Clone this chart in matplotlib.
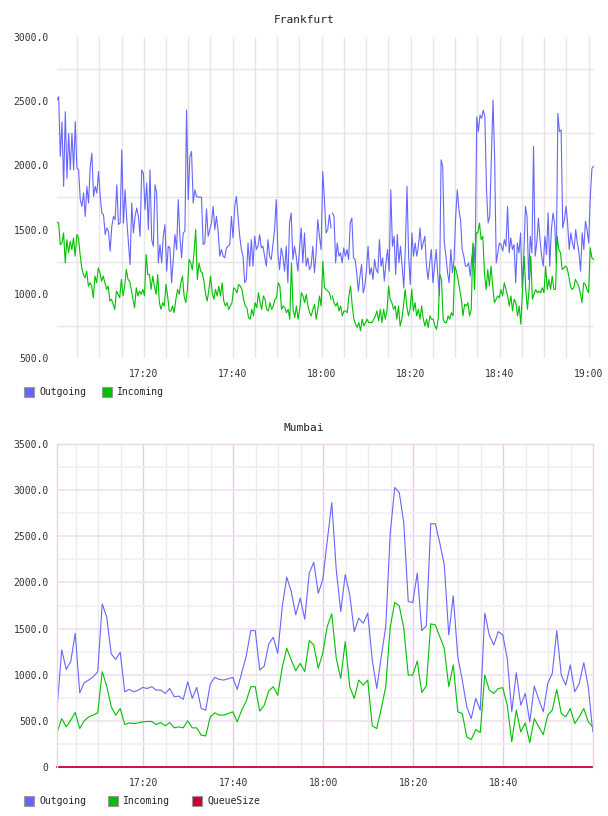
import numpy as np
import pandas as pd
import matplotlib
matplotlib.use("Agg")
import matplotlib.pyplot as plt
import matplotlib.dates as mdates
from matplotlib.patches import Rectangle
from matplotlib.ticker import FixedLocator, FuncFormatter

# ---- data ----
# Frankfurt, two halves: 17:00:30-18:02 and 18:02-19:01
fra_out_a = [2510, 2535, 2070, 2340, 1836, 2418, 1900, 2250, 1965, 2250, 1965, 2340, 1978, 1965, 1733,
             1680, 1784, 1603, 1836, 1707, 1990, 2095, 1758, 1836, 1784, 1952, 1758, 1629, 1616, 1461,
             1513, 1487, 1332, 1526, 1603, 1577, 1849, 1539, 1552, 2121, 1552, 1810, 1577, 1396, 1228,
             1707, 1474, 1603, 1668, 1603, 1448, 1965, 1940, 1655, 1862, 1500, 1965, 1422, 1370, 1849,
             1784, 1241, 1383, 1241, 1448, 1539, 1176, 1370, 1357, 1086, 1280, 1461, 1345, 1733, 1448,
             1280, 1474, 1487, 2431, 1733, 2069, 2108, 1707, 1810, 1758, 1753, 1753, 1753, 1383, 1396,
             1660, 1448, 1500, 1552, 1681, 1500, 1603, 1487, 1293, 1345, 1293, 1280, 1357, 1370, 1383,
             1603, 1435, 1681, 1758, 1603, 1448, 1345, 1293, 1086, 1112, 1396, 1215, 1422, 1215, 1448,
             1345, 1370, 1461, 1357, 1370, 1293, 1215, 1422, 1293, 1267, 1383, 1500, 1733, 1319, 1189,
             1357, 1293, 1176, 1370, 1086, 1552, 1629, 1267, 1370, 1293, 1176, 1345, 1513, 1241, 1474,
             1215, 1280, 1189, 1215, 1370, 1163, 1319, 1577, 1448, 1345, 1952, 1733, 1474, 1500, 1616,
             1513]
fra_out_b = [1629, 1603, 1241, 1396, 1293, 1319, 1241, 1357, 1293, 1345, 1267, 1552, 1590, 1280, 1267,
             1163, 1021, 1138, 1228, 1008, 1060, 1189, 1370, 1150, 1202, 1112, 1267, 1189, 1163, 1422,
             1215, 1280, 1099, 1241, 1345, 1176, 1810, 1370, 1448, 1150, 1461, 1241, 1370, 1215, 1047,
             1370, 1836, 1293, 1073, 1474, 1293, 1396, 1293, 1370, 1513, 1345, 1396, 1448, 1215, 1112,
             1241, 1345, 1086, 1215, 1345, 1138, 983, 2043, 1992, 1396, 1293, 1163, 1086, 1345, 1163,
             1267, 1603, 1810, 1655, 1577, 1345, 1293, 1215, 1215, 1241, 1138, 1293, 1383, 1241, 2379,
             2263, 2392, 2366, 2431, 2379, 1810, 1552, 1603, 2069, 2509, 2069, 1241, 1319, 1396, 1383,
             1332, 1422, 1370, 1681, 1319, 1435, 1345, 1383, 1086, 1396, 1319, 1474, 1047, 1306, 1681,
             1603, 1112, 1448, 1319, 2147, 1293, 1396, 1590, 1422, 1293, 1215, 1448, 1306, 1629, 1215,
             1500, 1629, 1552, 1241, 2405, 2263, 2276, 1513, 1577, 1681, 1552, 1345, 1474, 1396, 1345,
             1500, 1396, 1319, 1176, 1474, 1345, 1565, 1500, 1396, 1758, 1978, 1992]
fra_in_a = [1557, 1551, 1383, 1396, 1474, 1241, 1422, 1319, 1409, 1345, 1435, 1293, 1461, 1435, 1306,
            1202, 1150, 1125, 1176, 1060, 1086, 1060, 969, 1138, 1086, 1202, 1163, 1099, 1138, 1086,
            1034, 1060, 944, 957, 918, 879, 1021, 996, 969, 1112, 983, 1060, 1189, 1112, 1099,
            1034, 957, 892, 1047, 983, 1021, 996, 1034, 983, 1306, 1150, 1150, 1034, 1138, 1060,
            996, 1150, 931, 879, 931, 905, 1073, 983, 866, 866, 905, 853, 957, 1034, 996,
            1086, 1138, 983, 931, 1034, 1267, 1241, 1189, 1319, 1500, 1112, 1241, 1176, 1163, 1099,
            996, 944, 1034, 1138, 1008, 957, 1034, 983, 1060, 983, 1086, 944, 905, 931, 879,
            905, 931, 1047, 1034, 1008, 1073, 1060, 1034, 957, 905, 892, 815, 802, 879, 828,
            931, 892, 1008, 931, 879, 983, 957, 879, 866, 931, 879, 905, 957, 969, 1086,
            1060, 879, 905, 892, 853, 879, 802, 1241, 879, 815, 905, 802, 879, 1008, 983,
            931, 996, 905, 853, 828, 879, 918, 802, 879, 983, 905, 1254, 1047, 1034, 1021,
            1008, 957]
fra_in_b = [983, 931, 905, 931, 866, 905, 828, 866, 866, 853, 983, 1060, 905, 802, 763,
            738, 776, 712, 802, 750, 776, 802, 776, 776, 776, 802, 828, 866, 789, 879,
            776, 879, 802, 866, 1060, 957, 931, 879, 905, 802, 905, 750, 802, 905, 1034,
            905, 828, 879, 1034, 866, 931, 828, 879, 802, 905, 802, 750, 802, 738, 828,
            802, 802, 750, 724, 802, 1150, 1112, 802, 776, 776, 828, 802, 853, 828, 1215,
            1176, 1112, 1034, 957, 828, 918, 905, 931, 828, 879, 1396, 1034, 1474, 1474, 1551,
            1422, 1448, 1163, 1034, 1189, 1060, 1215, 1060, 931, 957, 983, 969, 1034, 983, 1086,
            1034, 983, 905, 983, 866, 957, 931, 828, 905, 763, 1034, 1293, 1034, 879, 1034,
            1293, 957, 996, 1034, 1008, 1021, 1008, 1047, 1008, 1215, 1034, 1112, 1034, 1138, 1034,
            1034, 1448, 1345, 1319, 1189, 1202, 1215, 1202, 1138, 1060, 1034, 1047, 1112, 1086, 1060,
            1008, 931, 1086, 1073, 1034, 1008, 1357, 1280, 1267]

# Mumbai, one sample per minute 17:01-19:00
mum_out = [660, 1268, 1058, 1141, 1449, 804, 913, 942, 978, 1033,
           1768, 1623, 1225, 1167, 1243, 815, 841, 815, 833, 862,
           851, 870, 833, 833, 797, 851, 761, 768, 732, 924,
           743, 862, 634, 616, 899, 971, 949, 942, 956, 971,
           841, 1022, 1203, 1478, 1478, 1051, 1094, 1333, 1406, 1232,
           1739, 2058, 1902, 1648, 1830, 1601, 2102, 2218, 1884, 2029,
           2450, 2865, 2138, 1685, 2084, 1866, 1467, 1612, 1558, 1667,
           1159, 851, 1196, 1522, 2538, 3029, 2974, 2647, 1793, 1782,
           2102, 1478, 1529, 2636, 2636, 2429, 2193, 1431, 1855, 1196,
           942, 652, 525, 743, 616, 1667, 1431, 1322, 1467, 1431,
           1177, 598, 1022, 670, 797, 489, 877, 732, 598, 906,
           1014, 1478, 996, 888, 1105, 815, 906, 1130, 870, 380]
mum_in = [380, 525, 435, 507, 591, 417, 500, 543, 562, 587,
          1033, 877, 652, 562, 634, 460, 478, 471, 478, 489,
          493, 493, 460, 482, 446, 482, 424, 435, 424, 500,
          424, 424, 344, 337, 543, 587, 562, 562, 580, 598,
          489, 616, 714, 870, 870, 605, 670, 822, 870, 779,
          1080, 1286, 1159, 1043, 1123, 1033, 1370, 1322, 1069, 1232,
          1522, 1659, 1177, 960, 1359, 870, 743, 942, 888, 942,
          446, 417, 634, 870, 1522, 1782, 1746, 1504, 996, 996,
          1148, 808, 877, 1551, 1540, 1413, 1286, 870, 1105, 598,
          580, 326, 297, 406, 373, 996, 833, 797, 851, 859,
          670, 272, 616, 380, 478, 264, 525, 435, 351, 562,
          616, 841, 580, 543, 634, 471, 543, 634, 489, 435]
mum_queue = [0, 0, 0, 0, 0, 0, 0, 0, 0, 0, 0, 0, 0, 0, 0, 0, 0, 0, 0, 0,
             0, 0, 0, 0, 0, 0, 0, 0, 0, 0, 0, 0, 0, 0, 0, 0, 0, 0, 0, 0,
             0, 0, 0, 0, 0, 0, 0, 0, 0, 0, 0, 0, 0, 0, 0, 0, 0, 0, 0, 0,
             0, 0, 0, 0, 0, 0, 0, 0, 0, 0, 0, 0, 0, 0, 0, 0, 0, 0, 0, 0,
             0, 0, 0, 0, 0, 0, 0, 0, 0, 0, 0, 0, 0, 0, 0, 0, 0, 0, 0, 0,
             0, 0, 0, 0, 0, 0, 0, 0, 0, 0, 0, 0, 0, 0, 0, 0, 0, 0, 0, 0]

BLUE, GREEN, RED = "#6666ff", "#00c000", "#cc0033"
MONO = "DejaVu Sans Mono"

W, H = 608, 816
fig = plt.figure(figsize=(W / 100, H / 100), dpi=100)
start = pd.Timestamp("2020-01-01 17:00")


def minutes(t0, t1, n):
    return start + pd.to_timedelta(np.linspace(t0, t1, n), unit="m")


def px_axes(left, top, right, bottom):
    return fig.add_axes([left / W, 1 - bottom / H, (right - left) / W, (bottom - top) / H])


def legend(items, xs, yc):
    for (label, color), x in zip(items, xs):
        fig.add_artist(Rectangle((x / W, 1 - (yc + 5) / H), 10 / W, 10 / H,
                                 transform=fig.transFigure, facecolor=color,
                                 edgecolor="#999999", lw=0.8))
        fig.text((x + 15) / W, 1 - yc / H, label, ha="left", va="center",
                 fontsize=7, family=MONO, color="#222222")


def setup_time_axis(ax, t_end):
    ax.set_xlim(start + pd.Timedelta(minutes=0.5 if t_end > 120.5 else 0.85),
                start + pd.Timedelta(minutes=t_end))
    ax.xaxis.set_major_locator(mdates.MinuteLocator(byminute=[0, 20, 40]))
    ax.xaxis.set_minor_locator(mdates.MinuteLocator(byminute=range(0, 60, 5)))
    ax.xaxis.set_major_formatter(mdates.DateFormatter("%H:%M"))
    ax.tick_params(which="both", length=0, labelsize=7, labelcolor="#333333")
    ax.tick_params(axis="x", pad=8)
    ax.tick_params(axis="y", pad=6)
    for lab in ax.get_xticklabels() + ax.get_yticklabels():
        lab.set_family(MONO)
    ax.set_axisbelow(True)


yfmt = FuncFormatter(lambda v, p: "0" if v == 0 else "%.1f" % v)

# ---- Frankfurt ----
ax1 = px_axes(57, 37, 594, 358)
ax1.plot(minutes(0.5, 62.1, len(fra_out_a)), fra_out_a, color=BLUE, lw=0.8)
ax1.plot(minutes(62.4, 121.1, len(fra_out_b)), fra_out_b, color=BLUE, lw=0.8)
ax1.plot(minutes(0.5, 62.1, len(fra_in_a)), fra_in_a, color=GREEN, lw=0.8)
ax1.plot(minutes(62.4, 121.1, len(fra_in_b)), fra_in_b, color=GREEN, lw=0.8)
ax1.set_ylim(500, 3000)
ax1.set_yticks([500, 1000, 1500, 2000, 2500, 3000])
ax1.yaxis.set_minor_locator(FixedLocator([750, 1250, 1750, 2250, 2750]))
ax1.yaxis.set_major_formatter(yfmt)
setup_time_axis(ax1, 121.2)
ax1.grid(which="minor", axis="y", color="#e6e6e6", lw=1)
ax1.grid(which="both", axis="x", color="#e6e6e6", lw=1)
for s in ax1.spines.values():
    s.set_visible(False)
fig.text(0.5, 1 - 20 / H, "Frankfurt", ha="center", va="center", fontsize=8,
         family=MONO, color="#222222")
legend([("Outgoing", BLUE), ("Incoming", GREEN)], [24, 102], 392)

# ---- Mumbai ----
ax2 = px_axes(57, 444, 593, 767)
tm = minutes(0.9, 119.9, len(mum_out))
ax2.plot(tm, mum_out, color=BLUE, lw=0.8)
ax2.plot(tm, mum_in, color=GREEN, lw=0.8)
ax2.plot(tm, mum_queue, color=RED, lw=1.3, clip_on=False)
ax2.set_ylim(0, 3500)
ax2.set_yticks([0, 500, 1000, 1500, 2000, 2500, 3000, 3500])
ax2.yaxis.set_minor_locator(FixedLocator([250, 750, 1250, 1750, 2250, 2750, 3250]))
ax2.yaxis.set_major_formatter(yfmt)
setup_time_axis(ax2, 119.95)
ax2.grid(which="major", axis="y", color="#f0e0f0", lw=1.2)
ax2.grid(which="minor", axis="y", color="#f0f0f0", lw=1.2)
ax2.grid(which="major", axis="x", color="#e4cce4", lw=1)
ax2.grid(which="minor", axis="x", color="#ebebeb", lw=1)
for side, s in ax2.spines.items():
    s.set_color("#ecd4ec")
    s.set_linewidth(1)
ax2.spines["bottom"].set_visible(False)
fig.text(0.5, 1 - 428 / H, "Mumbai", ha="center", va="center", fontsize=8,
         family=MONO, color="#222222")
legend([("Outgoing", BLUE), ("Incoming", GREEN), ("QueueSize", RED)], [24, 108, 192], 801)

fig.savefig("out.png", dpi=100)
